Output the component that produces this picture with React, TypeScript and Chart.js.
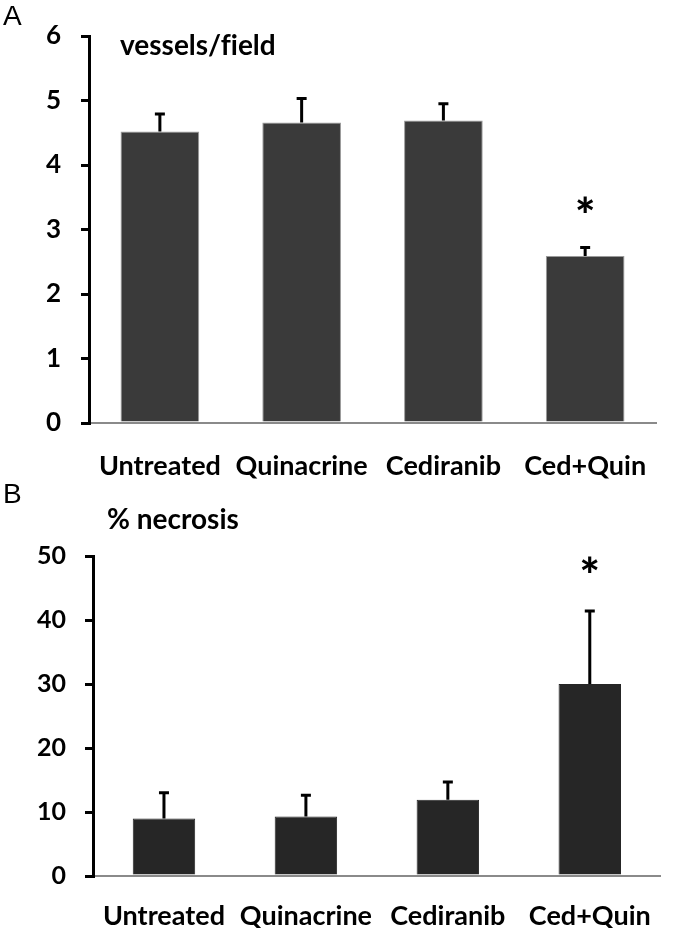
import React, { useEffect, useRef } from "react";
import { Chart, registerables } from "chart.js";
Chart.register(...registerables);

const categories = ["Untreated", "Quinacrine", "Cediranib", "Ced+Quin"];

const vesselsMeans = [4.52, 4.66, 4.69, 2.59];
const vesselsErrors = [0.27, 0.37, 0.26, 0.13];
const vesselsTicks = [0, 1, 2, 3, 4, 5, 6];

const necrosisMeans = [9.0, 9.3, 11.9, 30.0];
const necrosisErrors = [4.0, 3.3, 2.8, 11.4];
const necrosisTicks = [0, 10, 20, 30, 40, 50];

const significant = [false, false, false, true];

const FONT = "Lato, 'Open Sans', sans-serif";

const errorBarPlugin = {
  id: "errbars",
  afterDatasetsDraw(chart: any, _args: any, opts: any) {
    const { ctx } = chart;
    const meta = chart.getDatasetMeta(0);
    const y = chart.scales.y;
    ctx.save();
    ctx.strokeStyle = "#000";
    ctx.lineWidth = 3;
    ctx.lineCap = "butt";
    meta.data.forEach((bar: any, i: number) => {
      const v = opts.means[i];
      const e = opts.errors[i];
      const yTop = y.getPixelForValue(v + e);
      const yBar = y.getPixelForValue(v);
      ctx.beginPath();
      ctx.moveTo(bar.x, yBar);
      ctx.lineTo(bar.x, yTop);
      ctx.moveTo(bar.x - opts.cap / 2, yTop);
      ctx.lineTo(bar.x + opts.cap / 2, yTop);
      ctx.stroke();
      if (opts.sig[i]) {
        ctx.fillStyle = "#000";
        ctx.font = `900 ${opts.starSize}px ${FONT}`;
        ctx.textAlign = "center";
        ctx.textBaseline = "middle";
        ctx.fillText("*", bar.x, yTop - opts.starGap);
      }
    });
    const area = chart.chartArea;
    ctx.fillStyle = "#000";
    ctx.textAlign = "left";
    ctx.textBaseline = "middle";
    ctx.font = `bold ${opts.titleSize}px ${FONT}`;
    ctx.fillText(opts.title, area.left + opts.titleDx, area.top + opts.titleDy);
    ctx.font = `28px 'Liberation Sans', Arial, sans-serif`;
    ctx.fillText(opts.panel, 3, opts.panelY);
    ctx.restore();
  },
};

type PanelProps = {
  means: number[];
  errors: number[];
  ticks: number[];
  height: number;
  top: number;
  axisLeft: number;
  padTop: number;
  padRight: number;
  xHeight: number;
  barPct: number;
  color: string;
  border: string;
  tickFont: number;
  labelFont: number;
  labelPad: number;
  tickPad: number;
  title: string;
  titleDx: number;
  titleDy: number;
  titleSize: number;
  panel: string;
  panelY: number;
  starGap: number;
};

function Panel(p: PanelProps) {
  const ref = useRef<HTMLCanvasElement | null>(null);
  useEffect(() => {
    if (!ref.current) return;
    const chart = new Chart(ref.current, {
      type: "bar",
      data: {
        labels: categories,
        datasets: [
          {
            data: p.means,
            backgroundColor: p.color,
            borderColor: p.border,
            borderWidth: 1,
            barPercentage: p.barPct,
            categoryPercentage: 1,
          },
        ],
      },
      options: {
        responsive: false,
        animation: false,
        devicePixelRatio: 1,
        layout: { padding: { top: p.padTop, right: p.padRight, left: 0, bottom: 0 } },
        plugins: {
          legend: { display: false },
          tooltip: { enabled: false },
          errbars: {
            means: p.means,
            errors: p.errors,
            sig: significant,
            cap: 10,
            starGap: p.starGap,
            starSize: 48,
            title: p.title,
            titleDx: p.titleDx,
            titleDy: p.titleDy,
            titleSize: p.titleSize,
            panel: p.panel,
            panelY: p.panelY,
          },
        } as any,
        scales: {
          x: {
            grid: { display: false, drawTicks: false },
            border: { display: true, color: "#8a8a8a", width: 2 },
            ticks: {
              color: "#000",
              padding: p.labelPad,
              font: { family: FONT, size: p.labelFont, weight: "bold" },
            },
            afterFit: (s: any) => {
              s.height = p.xHeight;
            },
          },
          y: {
            min: p.ticks[0],
            max: p.ticks[p.ticks.length - 1],
            afterBuildTicks: (s: any) => {
              s.ticks = p.ticks.map((v) => ({ value: v }));
            },
            grid: {
              display: true,
              drawOnChartArea: false,
              drawTicks: true,
              tickLength: 8,
              color: "#000",
              lineWidth: 3,
            },
            border: { display: true, color: "#000", width: 3 },
            ticks: {
              color: "#000",
              padding: p.tickPad,
              font: { family: FONT, size: p.tickFont, weight: "bold" },
            },
            afterFit: (s: any) => {
              s.width = p.axisLeft;
            },
          },
        },
      },
      plugins: [errorBarPlugin],
    } as any);
    return () => chart.destroy();
  }, []);
  return (
    <canvas
      ref={ref}
      width={675}
      height={p.height}
      style={{ position: "absolute", left: 0, top: p.top, width: 675, height: p.height }}
    />
  );
}

export default function App() {
  return (
    <div style={{ position: "absolute", left: 0, top: 0, width: 675, height: 928, background: "#fff" }}>
      <Panel
        means={vesselsMeans}
        errors={vesselsErrors}
        ticks={vesselsTicks}
        height={480}
        top={0}
        axisLeft={89}
        padTop={36}
        padRight={15}
        xHeight={57}
        barPct={0.555}
        color="#3a3a3a"
        border="#9a9a9a"
        tickFont={26}
        labelFont={27}
        labelPad={27}
        tickPad={20}
        title={"vessels/f\u200Cield"}
        titleDx={31}
        titleDy={10}
        titleSize={28}
        panel="A"
        panelY={17}
        starGap={30}
      />
      <Panel
        means={necrosisMeans}
        errors={necrosisErrors}
        ticks={necrosisTicks}
        height={448}
        top={480}
        axisLeft={93}
        padTop={76}
        padRight={2}
        xHeight={52}
        barPct={0.44}
        color="#262626"
        border="#262626"
        tickFont={25}
        labelFont={27}
        labelPad={24}
        tickPad={19}
        title="% necrosis"
        titleDx={14}
        titleDy={-36}
        titleSize={28}
        panel="B"
        panelY={15}
        starGap={34}
      />
    </div>
  );
}
